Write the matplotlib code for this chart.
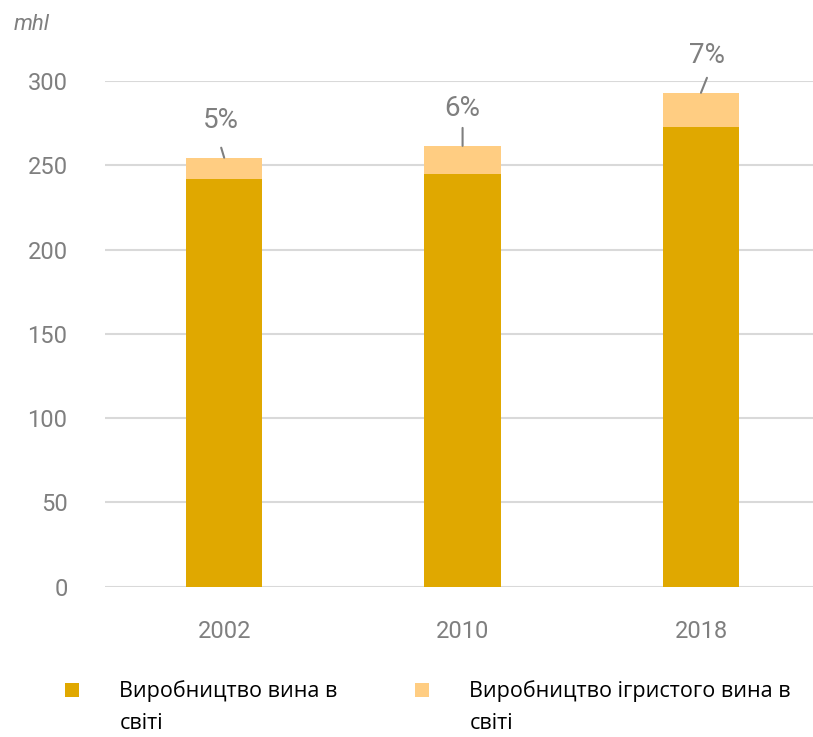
import matplotlib
matplotlib.use("Agg")
import matplotlib.pyplot as plt

# values (mhl)
years = ["2002", "2010", "2018"]
still_wine = [242.0, 245.0, 272.5]
sparkling = [12.5, 16.5, 20.5]
share_labels = ["5%", "6%", "7%"]
series_names = ["Виробництво вина в", "Виробництво ігристого вина в"]
series_names_2 = ["світі", "світі"]
yticks = [0, 50, 100, 150, 200, 250, 300]

DARK = "#e0a800"
LIGHT = "#ffcd82"
GREY = "#7f7f7f"

fig = plt.figure(figsize=(8.13, 7.37), dpi=100)
ax = fig.add_axes([105 / 813, 150.3 / 737, 1 - 105 / 813, (586.7 - 81) / 737])

x = list(range(len(years)))
b1 = ax.bar(x, still_wine, width=0.32, color=DARK, zorder=2)
b2 = ax.bar(x, sparkling, width=0.32, bottom=still_wine, color=LIGHT, zorder=2)

ax.set_xlim(-0.5, 2.47)
ax.set_ylim(0, 300)
ax.set_yticks(yticks)
ax.set_xticks(x, years)
ax.grid(axis="y", color="#d9d9d9", lw=1.5, zorder=0)
ax.set_axisbelow(True)
for s in ax.spines.values():
    s.set_visible(False)
ax.tick_params(length=0, colors=GREY, labelsize=17)
ax.tick_params(axis="y", pad=27)
ax.tick_params(axis="x", pad=24)
for lab in ax.get_xticklabels() + ax.get_yticklabels():
    lab.set_family("Roboto")

# share of sparkling wine with small leader lines
lead_len = [10, 18, 15]
lead_dx = [-3, 0, 6]
for i, lab in enumerate(share_labels):
    top = still_wine[i] + sparkling[i]
    ax.annotate("", xy=(i, top), xytext=(lead_dx[i], lead_len[i]),
                textcoords="offset pixels",
                arrowprops=dict(arrowstyle="-", color=GREY, lw=1.5,
                                shrinkA=0, shrinkB=0), annotation_clip=False)
    ax.annotate(lab, xy=(i, top), xytext=(lead_dx[i], 37),
                textcoords="offset pixels", ha="center", va="center",
                fontsize=20, color=GREY, family="Roboto", annotation_clip=False)

fig.text(14 / 813, 1 - 25 / 737, "mhl", style="italic", fontsize=16,
         color=GREY, family="Roboto", va="center")

leg = fig.legend([b1, b2], series_names, ncol=2, loc="upper left",
                 bbox_to_anchor=(46 / 813, 1 - 661 / 737), frameon=False,
                 prop={"family": "Open Sans", "size": 15.5},
                 handlelength=0.65, handleheight=0.65, handletextpad=1.86,
                 columnspacing=3.6)

# second line of each label, hung under the first one
fig.canvas.draw()
W, H = fig.bbox.width, fig.bbox.height
for t, extra in zip(leg.get_texts(), series_names_2):
    bb = t.get_window_extent()
    fig.text(bb.x0 / W, (bb.y0 + bb.height / 2 - 32) / H, extra,
             va="center", ha="left", fontsize=15.5, family="Open Sans")

fig.savefig("out.png", dpi=100)
